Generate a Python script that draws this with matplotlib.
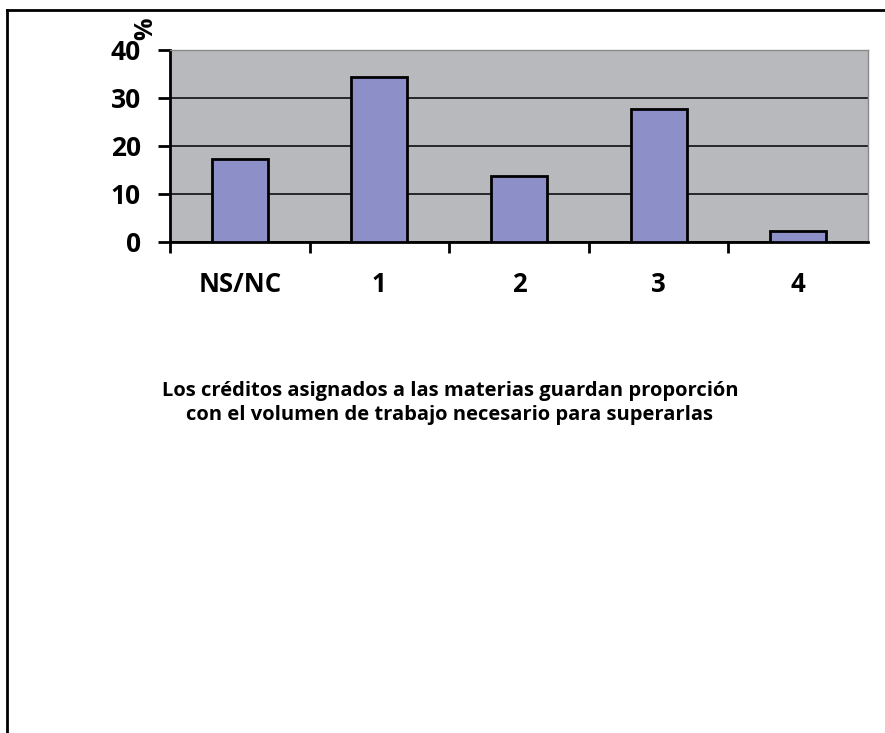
import matplotlib
matplotlib.use("Agg")
import matplotlib.pyplot as plt
from matplotlib.lines import Line2D
import numpy as np

# data
categories = ["NS/NC", "1", "2", "3", "4"]
values = [17.3, 34.4, 13.8, 27.7, 2.3]
yticks = [0, 10, 20, 30, 40]
title = ("Los créditos asignados a las materias guardan proporción\n"
         "con el volumen de trabajo necesario para superarlas")

FONT = "Open Sans"
W, H = 885, 733
fig = plt.figure(figsize=(W / 100, H / 100), dpi=100)
fig.patch.set_facecolor("white")

# axes box in pixels: left 170, right 868, top 50, bottom 242
ax = fig.add_axes([170 / W, 1 - 242 / H, (868 - 170) / W, (242 - 50) / H])
ax.set_facecolor("#b8b9bd")

x = np.arange(len(categories))
ax.bar(x, values, width=0.4, color="#8c8fc8", edgecolor="black", linewidth=2, zorder=3)

ax.set_xlim(-0.5, len(categories) - 0.5)
ax.set_ylim(0, 40)
ax.set_yticks(yticks)
ax.set_yticklabels([str(t) for t in yticks], fontsize=19, fontweight="bold", family=FONT)
ax.yaxis.grid(True, color="black", linewidth=1.1, zorder=1)
ax.set_axisbelow(True)

# category labels centred, ticks at boundaries
ax.set_xticks(x)
ax.set_xticklabels(categories, fontsize=18.5, fontweight="bold", family=FONT)
ax.tick_params(axis="x", length=0, pad=21)
ax.set_xticks(np.arange(len(categories)) - 0.5, minor=True)
ax.tick_params(axis="x", which="minor", length=8, width=2, direction="out", color="black")
ax.tick_params(axis="y", length=9, width=2, color="black", pad=12)

for s in ["top", "right"]:
    ax.spines[s].set_color("#8a8a8a")
    ax.spines[s].set_linewidth(1)
ax.spines["bottom"].set_linewidth(2)
ax.spines["left"].set_linewidth(2)

fig.text(146 / W, 1 - 29 / H, "%", rotation=90, fontsize=18, fontweight="bold",
         family=FONT, ha="center", va="center")

fig.text(450 / W, 1 - 403 / H, title, ha="center", va="center", fontsize=14.5,
         fontweight="bold", family=FONT, linespacing=1.25)

# outer frame (only top and left edges visible in the crop)
fig.add_artist(Line2D([7 / W, 1.0], [1 - 10 / H, 1 - 10 / H], transform=fig.transFigure,
                      color="black", linewidth=2))
fig.add_artist(Line2D([7 / W, 7 / W], [0, 1 - 10 / H], transform=fig.transFigure,
                      color="black", linewidth=2))

fig.savefig("out.png", dpi=100)
